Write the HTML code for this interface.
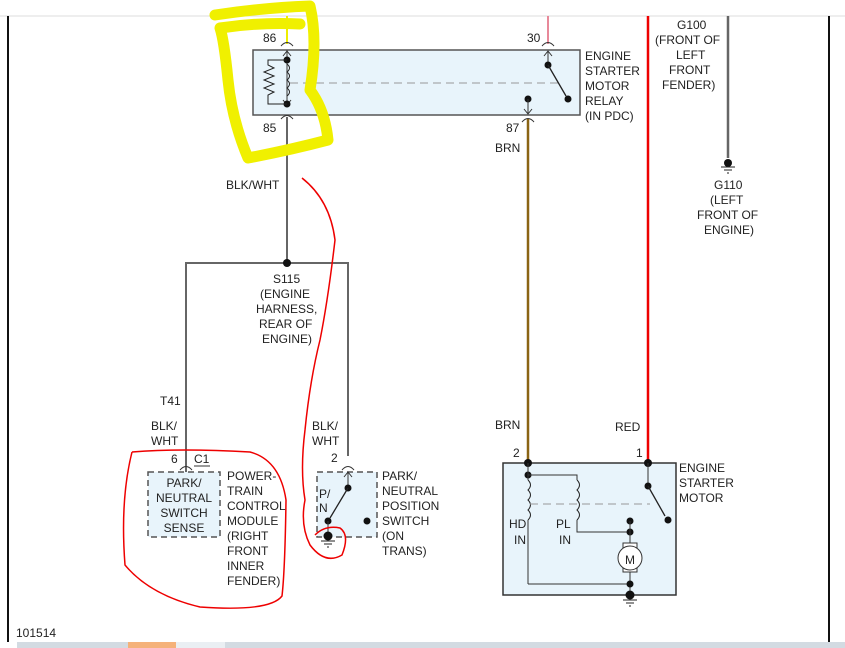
<!DOCTYPE html>
<html><head><meta charset="utf-8"><style>
html,body{margin:0;padding:0;background:#fff;}
svg{display:block;font-family:"Liberation Sans",Arial,sans-serif;}
text{font-size:12px;fill:#222;}
</style></head><body>
<svg width="845" height="648" viewBox="0 0 845 648" xmlns="http://www.w3.org/2000/svg">
<rect width="845" height="648" fill="#fff"/>
<line x1="0" y1="16" x2="845" y2="16" stroke="#ddd" stroke-width="1"/>
<line x1="8" y1="16" x2="8" y2="642" stroke="#111" stroke-width="2"/>
<line x1="829" y1="16" x2="829" y2="642" stroke="#111" stroke-width="2"/>
<!-- bottom bar -->
<rect x="0" y="642" width="845" height="6" fill="#d3dbe2"/>
<rect x="0" y="642" width="17" height="6" fill="#fff"/>
<rect x="128" y="642" width="48" height="6" fill="#f5b27a"/>
<rect x="176" y="642" width="49" height="6" fill="#eaeff3"/>
<text x="16" y="637" font-size="12">101514</text>

<!-- Relay -->
<rect x="253" y="50" width="327" height="65" fill="#e8f4fb" stroke="#555" stroke-width="1.5"/>
<line x1="287" y1="16" x2="287" y2="44" stroke="#ee0" stroke-width="2"/>
<path d="M281 46 Q287 39 293 46" fill="none" stroke="#333"/>
<text x="263" y="42">86</text>
<line x1="287" y1="50" x2="287" y2="106" stroke="#333"/>
<path d="M283 56 L287 51 L291 56" fill="none" stroke="#333"/>
<path d="M283 100 L287 105 L291 100" fill="none" stroke="#333"/>
<circle cx="287" cy="60" r="3.5" fill="#111"/><circle cx="287" cy="104" r="3.5" fill="#111"/>
<path d="M287 60 H268 V65 L274 68 L264 72 L274 76 L264 80 L274 84 L264 88 L274 92 L268 95 V104 H287" fill="none" stroke="#222"/>
<path d="M287 64 q5 4 0 8 q5 4 0 8 q5 4 0 8 q5 4 0 8" fill="none" stroke="#222"/>
<line x1="290" y1="83" x2="562" y2="83" stroke="#999" stroke-dasharray="8,5"/>
<path d="M281 119 Q287 112 293 119" fill="none" stroke="#333"/>
<text x="263" y="132">85</text>
<line x1="287" y1="117" x2="287" y2="263" stroke="#666" stroke-width="2"/>
<text x="226" y="189">BLK/WHT</text>

<line x1="548" y1="16" x2="548" y2="44" stroke="#e8899a" stroke-width="2"/>
<path d="M542 46 Q548 39 554 46" fill="none" stroke="#333"/>
<text x="527" y="42">30</text>
<line x1="548" y1="51" x2="548" y2="65" stroke="#333"/>
<path d="M544 56 L548 51 L552 56" fill="none" stroke="#333"/>
<circle cx="548" cy="65" r="3.5" fill="#111"/>
<line x1="548" y1="65" x2="566" y2="96" stroke="#222" stroke-width="1.3"/>
<circle cx="568" cy="99" r="3.5" fill="#111"/>
<circle cx="528" cy="99" r="3.5" fill="#111"/>
<line x1="528" y1="99" x2="528" y2="114" stroke="#333"/>
<path d="M524 109 L528 114 L532 109" fill="none" stroke="#333"/>
<path d="M522 122 Q528 115 534 122" fill="none" stroke="#333"/>
<text x="506" y="132">87</text>
<line x1="528" y1="119" x2="528" y2="463" stroke="#8a6414" stroke-width="2.5"/>
<text x="495" y="152">BRN</text>
<text x="495" y="429">BRN</text>
<text x="585" y="60">ENGINE</text><text x="585" y="75">STARTER</text><text x="585" y="90">MOTOR</text><text x="585" y="105">RELAY</text><text x="585" y="120">(IN PDC)</text>

<line x1="648" y1="16" x2="648" y2="463" stroke="#e00" stroke-width="2.5"/>
<text x="615" y="431">RED</text>
<text x="677" y="29">G100</text><text x="655" y="44">(FRONT OF</text><text x="676" y="59">LEFT</text><text x="669" y="74">FRONT</text><text x="662" y="89">FENDER)</text>
<line x1="728" y1="16" x2="728" y2="158" stroke="#666" stroke-width="2.5"/>
<circle cx="728" cy="163" r="4" fill="#111"/>
<line x1="721" y1="167" x2="735" y2="167" stroke="#222"/><line x1="724" y1="170" x2="732" y2="170" stroke="#222"/><line x1="727" y1="173" x2="729" y2="173" stroke="#222"/>
<text x="714" y="189">G110</text><text x="710" y="204">(LEFT</text><text x="697" y="219">FRONT OF</text><text x="704" y="234">ENGINE)</text>

<!-- splice -->
<path d="M186 500 V263 H348 V456" fill="none" stroke="#666" stroke-width="2"/>
<circle cx="287" cy="263" r="4" fill="#111"/>
<text x="273" y="283">S115</text><text x="260" y="298">(ENGINE</text><text x="256" y="313">HARNESS,</text><text x="259" y="328">REAR OF</text><text x="262" y="343">ENGINE)</text>
<text x="160" y="405">T41</text>
<text x="151" y="430">BLK/</text><text x="151" y="445">WHT</text>
<text x="312" y="430">BLK/</text><text x="312" y="445">WHT</text>

<!-- PCM -->
<path d="M180 470 Q186 463 192 470" fill="none" stroke="#333"/>
<text x="171" y="463">6</text><text x="194" y="463">C1</text><line x1="194" y1="466" x2="210" y2="466" stroke="#333"/>
<rect x="148" y="472" width="72" height="65" fill="#e8f4fb" stroke="#555" stroke-dasharray="6,4" stroke-width="1.5"/>
<text x="184" y="487" text-anchor="middle">PARK/</text><text x="184" y="502" text-anchor="middle">NEUTRAL</text><text x="184" y="517" text-anchor="middle">SWITCH</text><text x="184" y="532" text-anchor="middle">SENSE</text>
<text x="227" y="480">POWER-</text><text x="227" y="495">TRAIN</text><text x="227" y="510">CONTROL</text><text x="227" y="525">MODULE</text><text x="227" y="540">(RIGHT</text><text x="227" y="555">FRONT</text><text x="227" y="570">INNER</text><text x="227" y="585">FENDER)</text>

<!-- P/N switch -->
<path d="M342 470 Q348 463 354 470" fill="none" stroke="#333"/>
<text x="331" y="462">2</text>
<rect x="317" y="472" width="60" height="65" fill="#e8f4fb" stroke="#555" stroke-dasharray="6,4" stroke-width="1.5"/>
<line x1="348" y1="472" x2="348" y2="488" stroke="#333"/>
<path d="M344 477 L348 472 L352 477" fill="none" stroke="#333"/>
<circle cx="348" cy="488" r="3.5" fill="#111"/>
<line x1="348" y1="488" x2="330" y2="518" stroke="#222" stroke-width="1.3"/>
<circle cx="328" cy="521" r="3.5" fill="#111"/>
<circle cx="367" cy="521" r="3.5" fill="#111"/>
<line x1="328" y1="521" x2="328" y2="536" stroke="#333"/>
<circle cx="328" cy="536" r="4.5" fill="#111"/>
<line x1="321" y1="541" x2="335" y2="541" stroke="#222"/><line x1="324" y1="544" x2="332" y2="544" stroke="#222"/><line x1="327" y1="547" x2="329" y2="547" stroke="#222"/>
<text x="319" y="498">P/</text><text x="319" y="512">N</text>
<text x="382" y="480">PARK/</text><text x="382" y="495">NEUTRAL</text><text x="382" y="510">POSITION</text><text x="382" y="525">SWITCH</text><text x="382" y="540">(ON</text><text x="382" y="555">TRANS)</text>

<!-- Starter -->
<rect x="503" y="463" width="173" height="132" fill="#e8f4fb" stroke="#333" stroke-width="1.5"/>
<text x="513" y="457">2</text><text x="636" y="457">1</text>
<circle cx="528" cy="463" r="4" fill="#111"/><circle cx="648" cy="463" r="4" fill="#111"/>
<circle cx="528" cy="475" r="3.5" fill="#111"/>
<line x1="528" y1="463" x2="528" y2="480" stroke="#333"/>
<path d="M528 475 H577 V480"  fill="none" stroke="#333"/>
<path d="M528 480 q5 5 0 10 q5 5 0 10 q5 5 0 10 q5 5 0 10" fill="none" stroke="#222"/>
<path d="M577 480 q5 5 0 10 q5 5 0 10 q5 5 0 10 q5 5 0 10" fill="none" stroke="#222"/>
<line x1="528" y1="520" x2="528" y2="584" stroke="#333"/>
<path d="M577 520 V532 H630" fill="none" stroke="#333"/>
<line x1="530" y1="504" x2="650" y2="504" stroke="#999" stroke-dasharray="8,5"/>
<line x1="648" y1="463" x2="648" y2="486" stroke="#333"/>
<circle cx="648" cy="486" r="3.5" fill="#111"/>
<line x1="648" y1="486" x2="665" y2="516" stroke="#222" stroke-width="1.3"/>
<circle cx="668" cy="520" r="3.5" fill="#111"/>
<circle cx="630" cy="521" r="3.5" fill="#111"/><circle cx="630" cy="532" r="3.5" fill="#111"/>
<line x1="630" y1="521" x2="630" y2="595" stroke="#333"/>
<rect x="623" y="543" width="14" height="29" fill="#fff" stroke="#333"/>
<circle cx="630" cy="558" r="12" fill="#fff" stroke="#333"/>
<text x="630" y="564" text-anchor="middle" font-size="15">M</text>
<path d="M528 584 H630" fill="none" stroke="#333"/>
<circle cx="630" cy="584" r="3.5" fill="#111"/>
<circle cx="630" cy="595" r="4.5" fill="#111"/>
<line x1="623" y1="600" x2="637" y2="600" stroke="#222"/><line x1="626" y1="603" x2="634" y2="603" stroke="#222"/><line x1="629" y1="606" x2="631" y2="606" stroke="#222"/>
<text x="509" y="528">HD</text><text x="514" y="544">IN</text>
<text x="556" y="528">PL</text><text x="559" y="544">IN</text>
<text x="679" y="472">ENGINE</text><text x="679" y="487">STARTER</text><text x="679" y="502">MOTOR</text>

<!-- yellow highlight -->
<path d="M215 15 Q260 8 310 6 Q318 40 310 90 Q325 110 328 140 Q290 150 248 158 Q232 120 228 80 Q224 40 220 28 Q260 22 300 24" fill="none" stroke="#f0f000" stroke-width="11" stroke-linejoin="round" stroke-linecap="round"/>
<!-- red annotations -->
<path d="M302 178 Q330 200 335 240 Q328 300 320 340 Q310 380 305 430 Q300 470 305 500 Q300 525 310 545 Q325 565 342 555 Q350 535 340 528 Q325 525 315 535" fill="none" stroke="#e00" stroke-width="1.5"/>
<path d="M132 452 Q180 448 250 452 Q280 460 286 500 Q285 570 282 596 Q270 612 200 607 Q150 595 125 565 Q120 500 132 452" fill="none" stroke="#e00" stroke-width="1.5"/>
</svg>
</body></html>
